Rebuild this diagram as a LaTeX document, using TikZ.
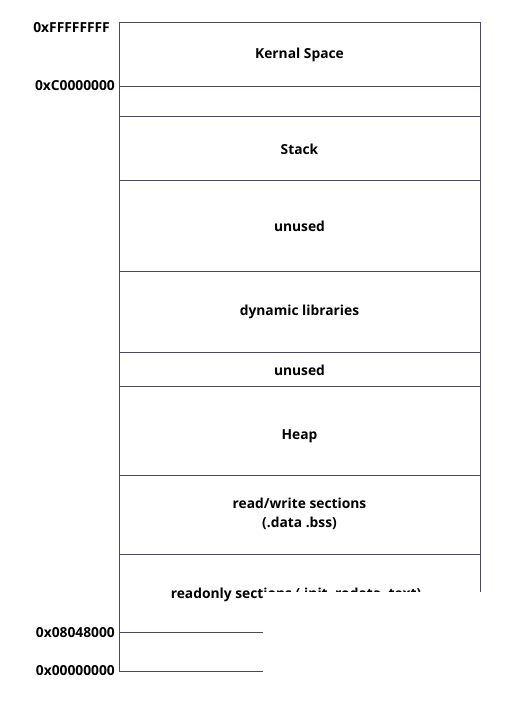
\documentclass[tikz,border=0pt]{standalone}
\usepackage{fontspec}
\setmainfont{Open Sans}
\begin{document}
\begin{tikzpicture}[x=1pt,y=-1pt,
  seg/.style={draw=linec, line width=1pt},
  lbl/.style={font=\bfseries\fontsize{13.8}{19}\selectfont, text=black, align=center, inner sep=0pt},
  addr/.style={font=\bfseries\fontsize{13.8}{17}\selectfont, text=black, anchor=east, inner sep=0pt}]
\definecolor{linec}{HTML}{4A4A5C}
\useasboundingbox (0,0) rectangle (525,704);
% outer frame and section lines
\draw[seg] (119,671) -- (119,22) -- (480,22) -- (480,600);
\draw[seg] (119,86) -- (480,86);
\draw[seg] (119,116) -- (480,116);
\draw[seg] (119,180) -- (480,180);
\draw[seg] (119,271) -- (480,271);
\draw[seg] (119,352) -- (480,352);
\draw[seg] (119,386) -- (480,386);
\draw[seg] (119,475) -- (480,475);
\draw[seg] (119,554) -- (480,554);
\draw[seg] (119,632) -- (300,632);
\draw[seg] (119,671) -- (300,671);
% section texts
\node[lbl] (kern) at (299.5,55) {Kernal Space};
\node[lbl] (stack) at (299.5,149) {Stack};
\node[lbl] (unused1) at (299.5,226) {unused};
\node[lbl] (dyn) at (299.5,312) {dynamic libraries};
\node[lbl] (unused2) at (299.5,370) {unused};
\node[lbl] (heap) at (299.5,436) {Heap};
\node[lbl] (rw) at (299.5,514) {read/write sections\\(.data .bss)};
\node[lbl] (ro) at (296,595) {readonly sections (.init .rodata .text)};
% addresses
\node[addr] (a1) at (110,28) {0xFFFFFFFF};
\node[addr] (a2) at (115,86) {0xC0000000};
\node[addr] (a3) at (115,633) {0x08048000};
\node[addr] (a4) at (115,671) {0x00000000};
% occluded region
\fill[white] (262.5,592) rectangle (525,704);
\end{tikzpicture}
\end{document}
